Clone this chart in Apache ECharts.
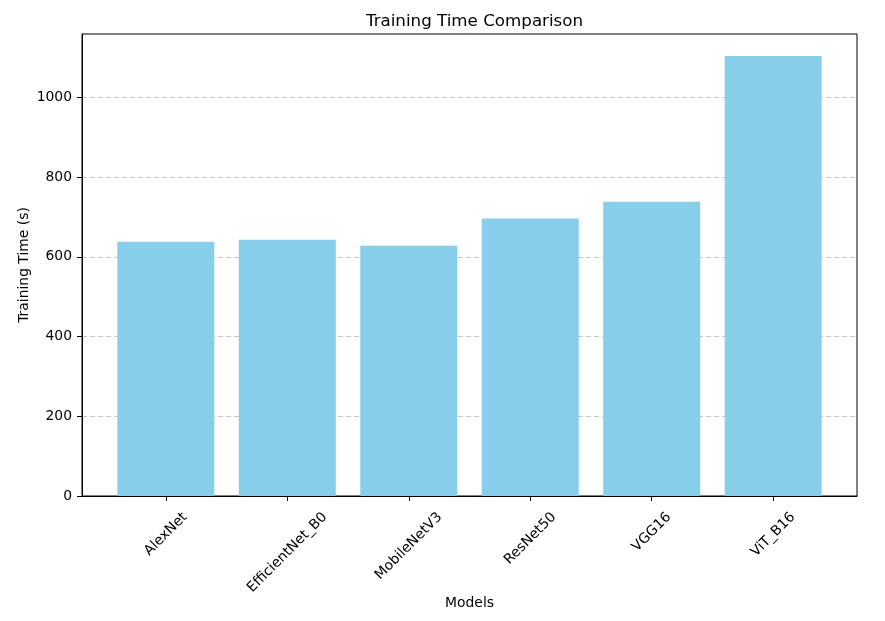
<!DOCTYPE html>
<html>
<head>
<meta charset="utf-8">
<script src="https://cdn.jsdelivr.net/npm/echarts@6/dist/echarts.min.js"></script>
<style>html,body{margin:0;padding:0;background:#fff}#c{width:885px;height:621px}</style>
</head>
<body>
<div id="c"></div>
<script>
const categories = ['AlexNet', 'EfficientNet_B0', 'MobileNetV3', 'ResNet50', 'VGG16', 'ViT_B16'];
const trainingTime = [638, 643, 628, 696, 738, 1104];
const yTicks = [0, 200, 400, 600, 800, 1000];

const FONT = 'DejaVu Sans';
const FS = 13.9;
const cv = document.createElement('canvas').getContext('2d');
cv.font = FS + 'px "' + FONT + '"';
const rich = {};
categories.forEach((c, i) => {
  const L = cv.measureText(c).width;
  rich['l' + i] = { fontFamily: FONT, fontSize: FS, color: '#000', padding: [0.5 * L, 0.5 * L, 0, 0] };
});

const chart = echarts.init(document.getElementById('c'), null, { renderer: 'canvas' });
chart.setOption({
  animation: false,
  backgroundColor: '#fff',
  title: {
    text: 'Training Time Comparison', left: 469.5, textAlign: 'center', top: 8,
    textStyle: { fontFamily: FONT, fontSize: 16.7, fontWeight: 'normal', color: '#000' }
  },
  grid: { left: 82, right: 28, top: 34, bottom: 125, show: true, borderColor: '#000', borderWidth: 1, backgroundColor: 'transparent' },
  xAxis: {
    type: 'value', min: -0.69, max: 5.69,
    name: 'Models', nameLocation: 'middle', nameGap: 100, nameMoveOverlap: false,
    nameTextStyle: { fontFamily: FONT, fontSize: FS, color: '#000' },
    axisLine: { show: true, onZero: false, lineStyle: { color: '#000', width: 1 } },
    axisTick: { show: true, length: 5, lineStyle: { color: '#000' }, customValues: categories.map((c, i) => i) },
    axisLabel: {
      customValues: categories.map((c, i) => i),
      rotate: 45, margin: 19, align: 'center', verticalAlign: 'middle',
      formatter: v => { const i = Math.round(v); return '{l' + i + '|' + categories[i] + '}'; },
      rich: rich, fontFamily: FONT, fontSize: FS, color: '#000'
    },
    splitLine: { show: false }
  },
  yAxis: {
    type: 'value', min: 0, max: 1159,
    name: 'Training Time (s)', nameLocation: 'middle', nameGap: 51, nameMoveOverlap: false,
    nameTextStyle: { fontFamily: FONT, fontSize: FS, color: '#000' },
    axisLine: { show: true, onZero: false, lineStyle: { color: '#000', width: 1 } },
    axisTick: { show: true, length: 5, lineStyle: { color: '#000' }, customValues: yTicks },
    axisLabel: { customValues: yTicks, margin: 10, formatter: v => String(v), fontFamily: FONT, fontSize: FS, color: '#000' },
    splitLine: { show: true, lineStyle: { color: 'rgba(128,128,128,0.45)', type: [5, 3], width: 1 } }
  },
  series: [{
    type: 'bar',
    data: trainingTime.map((v, i) => [i, v]),
    barWidth: 97,
    itemStyle: { color: '#87CEEB' }
  }]
});
</script>
</body>
</html>
